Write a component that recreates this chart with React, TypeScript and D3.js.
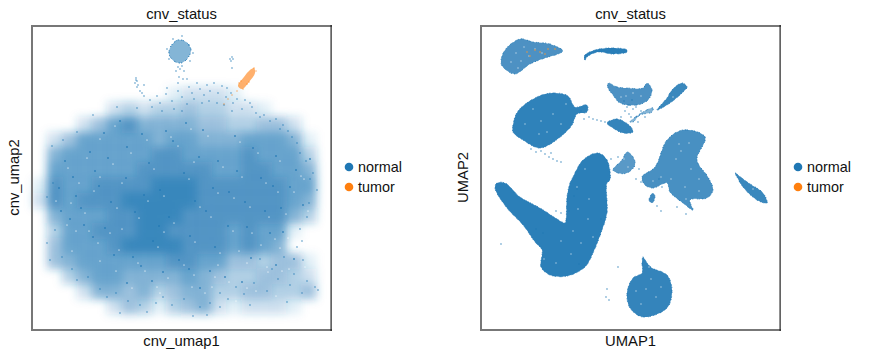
import React from "react";
import * as d3 from "d3";

type P = [number, number];
const W = 869, H = 364;
const BLUE = "#1f77b4", ORANGE = "#ff7f0e";
const categories = ["normal", "tumor"];
const title = "cnv_status";

// Left panel: density on a coarse grid (20 columns, 20 rows, top row first), digit = share of ink in tenths
const cnvDensity = [
  "00000000000000000000","00000000000000000000","00000000000000000000","00000000000000000000",
  "00000000012221000000","00000232334332210000","00024675555443344200","02466666566555666510",
  "05666666776666766630","06666667777766776650","17667777888777777660","27677788888777777650",
  "05666778887777777530","03667778877776766100","04666788887776765000","04566666677664434410",
  "00356655556543344320","00025545345533443340","00000243134521222100","00000000000000000000",
];
// Left panel: outlines of the dense islands (cnv_umap1, cnv_umap2)
const cnvIslandOutline: P[] = [[139,283],[146,289],[154,287],[159,279],[155,270],[149,266],[142,268],[137,275]];
const cnvTumorOutline: P[] = [[206,243],[212,252],[218,259],[222,261],[223,256],[217,247],[210,240]];
// Left panel: separate cells and sparse cells
const cnvIsland: P[] = [[141,290],[150,293],[157,284],[135,280],[161,276],[137,270],[158,268],[146,262],[150,263],[144,258],[148,260],[152,258],[147,252],[151,250],[146,246],[200,272],[201,270],[199,268],[198,270],[200,261],[104,251],[105,248],[103,246],[106,244],[104,249],[105,242],[108,238],[110,236],[112,233],[112,244]];
const cnvFringe: P[] = [[20,183],[31,189],[45,197],[61,214],[85,222],[105,221],[118,229],[135,241],[155,250],[175,244],[195,241],[201,226],[218,226],[228,212],[251,204],[265,186],[281,156],[285,139],[275,112],[265,82],[271,69],[286,39],[255,27],[218,24],[188,22],[175,14],[161,13],[131,32],[115,17],[88,16],[75,32],[45,49],[18,69],[15,86],[23,99],[15,132],[21,146],
[125,233],[128,226],[134,235],[140,228],[146,238],[150,232],[157,242],[160,236],[165,246],[168,240],[172,234],[178,238],[182,246],[186,236],[190,243],[194,232],[199,236],[205,230],[210,220],[213,229],[220,222],[224,216],[232,214],[238,208],[244,210],[248,200],[256,198],[260,192],[268,176],[274,168],[278,150],[155,225],[162,230],[170,226],[177,228],[185,226],[192,224],[200,218],[120,222],[130,218],[142,220],[150,218],
[228,70],[240,60],[252,72],[262,55],[275,48],[283,42],[270,36],[258,44],[246,50],[235,38],[222,46],[212,35],[204,42],[196,30],[188,36],[178,26],[168,22],[152,30],[140,24],[124,26],[108,24],[96,28],[84,36],[68,40],[56,52],[40,60],[30,72],[268,100],[277,126],[270,88]];
const cnvDark: P[] = [[33,168],[41,152],[58,177],[72,196],[88,208],[95,182],[67,143],[49,121],[38,110],[61,92],[82,74],[109,63],[121,88],[103,117],[128,139],[117,166],[141,188],[152,156],[167,172],[181,141],[174,118],[196,103],[213,127],[229,151],[244,173],[258,142],[271,124],[238,96],[219,71],[193,52],[168,41],[147,69],[131,57],[95,46],[73,101],[27,141],[44,133],[63,158],[79,127],[94,151],[112,134],[137,112],[158,93],[183,82],[205,158],[221,181],[249,121],[264,159],[233,118],[186,168],[134,198],[110,195],[154,206],[171,199],[203,193],[76,171],[52,104],[29,118],[127,103],[163,128],[197,137],[215,102],[251,97],[278,170],[241,143],[101,72],[120,48],[157,60],[178,58],[210,47],[244,64],[262,70]];
const cnvHoles: P[] = [[36,161],[47,146],[55,171],[68,190],[83,203],[99,176],[62,138],[53,116],[44,98],[66,86],[87,79],[113,58],[126,82],[107,111],[132,133],[122,160],[146,183],[157,150],[162,167],[186,136],[179,112],[201,98],[218,122],[234,146],[248,168],[262,137],[276,118],[243,90],[235,62],[197,47],[173,36],[152,64],[136,51],[100,41],[78,96],[24,128],[39,126],[68,152],[85,121],[90,146],[116,128],[142,106],[163,87],[188,76],[210,152],[226,176],[254,115],[269,153],[237,112],[191,162],[139,192],[115,189],[159,200],[176,193],[208,187],[81,165],[57,98],[35,104],[132,97],[168,122],[202,131],[220,96],[256,91],[272,150],[246,137],[106,66],[125,42],[162,54],[183,52],[215,41],[250,58],[236,57],[229,84],[215,66],[248,81],[207,78],[186,64],[160,42],[128,36],[84,58],[68,68],[90,100],[40,78],[257,60],[273,62],[244,33],[224,38],[204,28],[180,42]];
// Left panel: tumour cells at the upper right
const cnvTumor: P[] = [[205,238],[200,234],[196,230],[209,248],[215,245],[207,246],[217,247],[211,240],[192,225],[222,261],[224,258]];

// Right panel: cluster outlines (UMAP1, UMAP2)
const umapClusters: { pts: P[]; ink: number }[] = [
  { ink: 0.8, pts: [[39,290],[52,287],[69,285],[82,278],[77,275],[64,271],[49,265],[34,255],[24,260],[20,266],[24,279]] },
  { ink: 0.95, pts: [[103,271],[104,274],[114,279],[132,281],[146,279],[146,277],[132,275],[117,277],[106,272],[104,269]] },
  { ink: 0.8, pts: [[127,246],[136,242],[146,241],[162,241],[166,246],[171,239],[167,229],[156,224],[139,226],[132,234],[127,241]] },
  { ink: 0.55, pts: [[149,207],[162,217],[172,221],[171,217],[159,214],[152,207]] },
  { ink: 0.88, pts: [[176,219],[186,231],[191,239],[201,246],[206,242],[201,236],[189,226]] },
  { ink: 0.92, pts: [[32,204],[37,218],[56,232],[72,236],[87,233],[94,222],[106,224],[106,217],[96,215],[91,204],[78,191],[59,181],[42,189],[32,197]] },
  { ink: 0.9, pts: [[126,206],[136,210],[149,203],[152,197],[142,196],[132,201]] },
  { ink: 0.94, pts: [[117,176],[126,169],[129,149],[126,146],[126,116],[121,99],[112,76],[104,62],[86,53],[69,54],[60,62],[61,79],[54,87],[42,104],[26,121],[14,141],[16,146],[24,146],[39,132],[59,121],[81,107],[84,106],[86,132],[89,146],[92,152],[102,169]] },
  { ink: 0.75, pts: [[146,177],[152,172],[154,164],[146,156],[137,156],[132,159],[141,169]] },
  { ink: 0.82, pts: [[202,199],[224,192],[216,169],[227,152],[232,139],[226,131],[209,129],[212,119],[202,126],[189,137],[186,146],[172,141],[164,144],[161,152],[174,162],[186,189]] },
  { ink: 0.85, pts: [[172,136],[174,132],[171,126],[168,129]] },
  { ink: 0.88, pts: [[254,156],[266,147],[282,136],[286,126],[276,129],[262,142],[256,152]] },
  { ink: 0.9, pts: [[162,72],[166,66],[171,61],[186,54],[191,39],[186,21],[162,12],[149,21],[146,36],[152,51],[161,56],[161,66]] },
];
const umapStray: P[] = [[108,212],[112,210],[116,209],[120,208],[124,207],[60,178],[64,175],[68,172],[72,170],[76,168],[80,167],[148,215],[152,220],[155,222],[140,212],[144,218],[148,224],[93,133],[96,140],[88,118],[80,116],[75,118],[120,110],[130,170],[137,172],[155,150],[158,160],[160,147],[20,85],[137,62],[126,40],[125,32],[128,29],[176,123],[180,118],[196,122],[205,115],[178,150],[181,142],[98,65],[62,96],[55,100],[155,212],[160,218],[164,212],[150,212],[157,207],[143,228],[146,222],[100,218],[103,210],[55,177],[50,180],[70,176],[151,229],[47,127],[33,137]];
const umapHoles: P[] = [[35,276],[43,282],[54,280],[40,268],[30,267],[48,273],[61,276],[37,261],[145,233],[152,236],[140,232],[160,233],[200,178],[208,186],[195,170],[210,160],[218,150],[190,150],[204,142],[198,185],[218,138],[180,152],[172,148],[205,130],[60,208],[52,220],[72,215],[44,205],[66,197],[80,205],[85,225],[58,195],[97,120],[107,110],[92,98],[100,86],[80,88],[112,92],[96,142],[104,160],[108,130],[90,75],[165,40],[175,32],[160,25],[170,50],[180,42],[168,62],[155,38],[143,170],[147,162],[272,140],[135,275],[192,232],[75,66],[63,70]];
const umapTumor: P[] = [[46,277],[54,279],[59,277],[67,280],[74,280],[49,273],[64,275]];

const grid = { cols: 20, rows: 20 };
const panels = [
  { left: 32, xLabel: "cnv_umap1", yLabel: "cnv_umap2", legendX: 349 },
  { left: 481, xLabel: "UMAP1", yLabel: "UMAP2", legendX: 798 },
];
const top = 26, width = 299, height = 303;
const font = "Arial, 'Liberation Sans', sans-serif";
const roughEdge = "0.4 3.1 0.4 1.3 0.4 4.3 0.4 2";

function Frame({ x }: { x: number }) {
  return (
    <g>
      <rect x={x - 1} y={top - 1} width={width + 2} height={2} fill="#777" />
      <rect x={x - 1} y={top - 1} width={2} height={height + 3} fill="#777" />
      <rect x={x - 1} y={top + height} width={width + 2} height={2} fill="#777" />
      <rect x={x + width - 0.5} y={top - 1} width={1.2} height={height + 3} fill="#222" />
    </g>
  );
}

export default function App() {
  const xs = panels.map((p) => d3.scaleLinear().domain([0, width]).range([p.left, p.left + width]));
  const y = d3.scaleLinear().domain([0, height]).range([top + height, top]);
  const blob = d3.line<P>().curve(d3.curveCatmullRomClosed.alpha(0.5));
  const outline = (pts: P[], i: number) => blob(pts.map(([a, b]) => [xs[i](a), y(b)] as P)) ?? "";
  const dots = (pts: P[], i: number, color: string, r = 0.65, o = 1) =>
    pts.map(([a, b], k) => <circle key={k} cx={xs[i](a)} cy={y(b)} r={r} fill={color} fillOpacity={o} />);
  const colW = width / grid.cols, rowH = height / grid.rows;
  return (
    <svg width={W} height={H} style={{ position: "absolute", left: 0, top: 0, background: "#fff" }} fontFamily={font}>
      <defs>
        <filter id="soft" x="-5%" y="-5%" width="110%" height="110%"><feGaussianBlur stdDeviation="4.2" /></filter>
        <filter id="edge" x="-5%" y="-5%" width="110%" height="110%"><feGaussianBlur stdDeviation="0.4" /></filter>
      </defs>
      <g filter="url(#soft)">
        {cnvDensity.flatMap((row, r) =>
          row.split("").map((c, j) =>
            c === "0" ? null : (
              <rect key={`${r}-${j}`} x={xs[0](j * colW)} y={y(height - r * rowH)} width={colW + 0.5} height={rowH + 0.5} fill={BLUE} fillOpacity={Math.min(1, (+c / 10) * 1.1)} />
            )
          )
        )}
      </g>
      {dots(cnvHoles, 0, "#fff", 0.85, 0.55)}
      {dots(cnvDark, 0, BLUE, 0.9, 0.8)}
      <g filter="url(#edge)">
        <path d={outline(cnvIslandOutline, 0)} fill={BLUE} fillOpacity={0.55} stroke={BLUE} strokeWidth={1} strokeLinecap="round" strokeDasharray={roughEdge} />
        <path d={outline(cnvTumorOutline, 0)} fill={ORANGE} fillOpacity={0.62} />
      </g>
      {dots(cnvIsland, 0, BLUE)}
      {dots(cnvFringe, 0, BLUE)}
      {dots(cnvTumor, 0, ORANGE, 0.7, 0.7)}
      <g filter="url(#edge)">
        {umapClusters.map((c, k) => (
          <path key={k} d={outline(c.pts, 1)} fill={BLUE} fillOpacity={c.ink} stroke={BLUE} strokeWidth={0.9} strokeLinecap="round" strokeDasharray={roughEdge} />
        ))}
      </g>
      {dots(umapHoles, 1, "#fff", 0.75, 0.6)}
      {dots(umapStray, 1, BLUE)}
      {dots(umapTumor, 1, "#b5936a", 0.9)}
      {panels.map((p, i) => (
        <g key={i}>
          <Frame x={p.left} />
          <text x={p.left + width / 2} y={19} textAnchor="middle" fontSize={14.8} fill="#111">{title}</text>
          <text x={p.left + width / 2} y={346} textAnchor="middle" fontSize={14.8} fill="#111">{p.xLabel}</text>
          <text transform={`translate(${p.left - 13},${top + height / 2}) rotate(-90)`} textAnchor="middle" fontSize={14.8} fill="#111">{p.yLabel}</text>
          {categories.map((c, k) => (
            <g key={c}>
              <circle cx={p.legendX} cy={167 + k * 20} r={4.3} fill={k ? ORANGE : BLUE} />
              <text x={p.legendX + 9} y={172 + k * 20} fontSize={14.4} fill="#111">{c}</text>
            </g>
          ))}
        </g>
      ))}
    </svg>
  );
}
